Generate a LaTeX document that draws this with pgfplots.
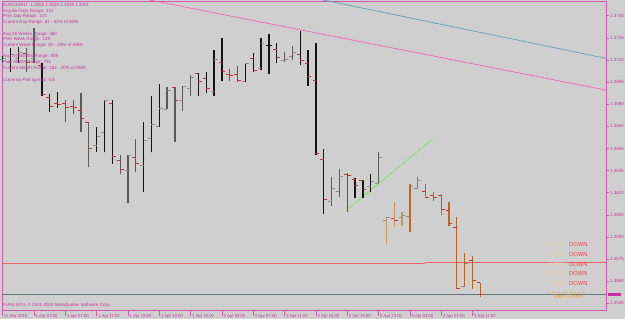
\documentclass[border=0pt]{standalone}
\usepackage{fontspec}
\setmainfont{Liberation Sans}
\usepackage{pgfplots}
\usepackage{pgfplotstable}
\pgfplotsset{compat=1.18}
\definecolor{bg}{HTML}{CFCFCF}
\definecolor{mtmag}{HTML}{C832A0}
\definecolor{axpink}{HTML}{D25AB4}
\definecolor{barblack}{HTML}{141414}
\definecolor{bargrey}{HTML}{5A5A5A}
\definecolor{barltor}{HTML}{C8965A}
\definecolor{bardkor}{HTML}{BE641E}
\definecolor{tickred}{HTML}{C83232}
\definecolor{tickgrey}{HTML}{8C8C8C}
\definecolor{trendpink}{HTML}{F064B4}
\definecolor{trendteal}{HTML}{5AA0BE}
\definecolor{trendgreen}{HTML}{78E65A}
\definecolor{hred}{HTML}{F06464}
\definecolor{pricegrey}{HTML}{607878}
\definecolor{downred}{HTML}{F04646}
\definecolor{faint}{HTML}{E6CDA5}
\definecolor{mmorange}{HTML}{F0A028}

\pgfdeclareplotmark{lt}{\pgfpathmoveto{\pgfqpoint{-3.4pt}{0pt}}\pgfpathlineto{\pgfqpoint{0pt}{0pt}}\pgfusepathqstroke}
\pgfdeclareplotmark{rt}{\pgfpathmoveto{\pgfqpoint{0pt}{0pt}}\pgfpathlineto{\pgfqpoint{3.4pt}{0pt}}\pgfusepathqstroke}

\pgfplotstableread{
x o h l c d k
0 1.37100 1.37127 1.37086 1.37113 1 0
1 1.37086 1.37181 1.37018 1.37134 1 0
2 1.37113 1.37188 1.37079 1.37154 1 0
3 1.37147 1.37181 1.37018 1.37086 0 1
4 1.37113 1.37317 1.37079 1.37262 1 1
5 1.37066 1.37079 1.36856 1.36869 0 0
6 1.36849 1.36869 1.36747 1.36788 0 0
7 1.36808 1.36883 1.36774 1.36801 0 0
8 1.36808 1.36828 1.36681 1.36776 0 1
9 1.36788 1.36828 1.36733 1.36781 0 1
10 1.36756 1.36876 1.36614 1.36700 0 1
11 1.36674 1.36674 1.36374 1.36498 0 1
12 1.36517 1.36647 1.36476 1.36584 1 0
13 1.36611 1.36828 1.36474 1.36826 1 0
14 1.36806 1.36828 1.36395 1.36444 0 0
15 1.36420 1.36456 1.36325 1.36359 0 1
16 1.36349 1.36456 1.36132 1.36451 1 1
17 1.36440 1.36564 1.36342 1.36399 0 1
18 1.36388 1.36677 1.36207 1.36557 1 0
19 1.36569 1.36858 1.36474 1.36664 1 0
20 1.36647 1.36937 1.36647 1.36772 1 0
21 1.36765 1.36915 1.36765 1.36896 1 1
22 1.36915 1.36915 1.36542 1.36828 0 1
23 1.36822 1.36923 1.36754 1.36919 1 1
24 1.36908 1.36998 1.36856 1.36984 1 1
25 1.37009 1.37014 1.36856 1.36955 0 0
26 1.36976 1.37020 1.36874 1.36908 0 0
27 1.36889 1.37167 1.36856 1.37104 1 0
28 1.37081 1.37247 1.36957 1.37020 0 0
29 1.37005 1.37037 1.36957 1.36998 0 1
30 1.37005 1.37059 1.36952 1.36964 0 1
31 1.36952 1.37081 1.36948 1.37077 1 0
32 1.37111 1.37145 1.37020 1.37032 0 0
33 1.37039 1.37247 1.37032 1.37213 1 0
34 1.37201 1.37276 1.37005 1.37201 2 0
35 1.37172 1.37217 1.37077 1.37118 0 0
36 1.37095 1.37152 1.37084 1.37104 1 1
37 1.37122 1.37197 1.37100 1.37152 1 1
38 1.37134 1.37298 1.37066 1.37095 0 0
39 1.37077 1.37167 1.36923 1.36986 0 0
40 1.36964 1.37217 1.36456 1.36467 0 0
41 1.36426 1.36494 1.36056 1.36157 0 0
42 1.36139 1.36308 1.36112 1.36230 1 1
43 1.36211 1.36359 1.36173 1.36308 1 1
44 1.36327 1.36331 1.36071 1.36315 0 1
45 1.36293 1.36298 1.36162 1.36252 0 0
46 1.36286 1.36286 1.36162 1.36223 0 0
47 1.36245 1.36327 1.36207 1.36279 1 0
48 1.36264 1.36474 1.36257 1.36442 1 1
49 1.36015 1.36033 1.35852 1.36030 1 2
50 1.36022 1.36139 1.35969 1.36015 0 2
51 1.36033 1.36071 1.35974 1.36047 1 2
52 1.36037 1.36259 1.35931 1.36241 1 3
53 1.36230 1.36308 1.36225 1.36286 1 3
54 1.36211 1.36259 1.36162 1.36169 0 3
55 1.36178 1.36203 1.36144 1.36169 0 3
56 1.36178 1.36191 1.36049 1.36087 0 3
57 1.36078 1.36139 1.35974 1.35992 0 3
58 1.35965 1.36037 1.35545 1.35552 0 3
59 1.35563 1.35789 1.35563 1.35721 1 3
60 1.35739 1.35771 1.35547 1.35603 0 3
61 1.35590 1.35590 1.35490 1.35510 0 3
}\bars

\pgfplotsset{
  rng/.style 2 args={only marks, mark=*, mark size=0pt, mark options={draw=none, fill=none}, forget plot,
    restrict expr to domain={\thisrow{k}}{#1},
    error bars/.cd, y dir=plus, y explicit, error mark=none,
    error bar style={line width=1.3pt, draw=#2, solid}},
  otick/.style 2 args={only marks, mark=lt, color=#2, mark options={solid, line width=1pt}, forget plot,
    restrict expr to domain={\thisrow{d}}{#1}},
  ctick/.style 2 args={only marks, mark=rt, color=#2, mark options={solid, line width=1pt}, forget plot,
    restrict expr to domain={\thisrow{d}}{#1}},
}

\begin{document}
\begin{tikzpicture}
\path[use as bounding box, fill=bg] (0pt,0pt) rectangle (625pt,319pt);
\begin{axis}[
  at={(2pt,9pt)}, anchor=south west,
  scale only axis, width=604pt, height=309pt,
  xmin=-0.09, xmax=77.05, ymin=1.35405, ymax=1.37500,
  axis line style={draw=axpink, line width=0.7pt},
  tick align=outside, major tick length=3pt,
  tick style={draw=axpink, line width=0.6pt},
  xtick pos=left, ytick pos=right,
  xticklabel pos=left, yticklabel pos=right,
  xtick={-0.08,4,8,12,16,20,24,28,32,36,40,44,48,52,56,60},
  xticklabels={31 Mar 2018,1 Apr 03:00,1 Apr 07:00,1 Apr 11:00,1 Apr 15:00,1 Apr 19:00,1 Apr 23:00,2 Apr 03:00,2 Apr 07:00,2 Apr 11:00,2 Apr 15:00,2 Apr 19:00,2 Apr 23:00,3 Apr 03:00,3 Apr 07:00,3 Apr 11:00},
  xtick style={/pgfplots/major tick length=6pt},
  ytick={1.3545,1.3560,1.3575,1.3590,1.3605,1.3620,1.3635,1.3650,1.3665,1.3680,1.3695,1.3710,1.3725,1.3740},
  scaled y ticks=false,
  /pgf/number format/.cd, fixed, fixed zerofill, precision=4, assume math mode=true,
  /pgfplots/.cd,
  xticklabel style={font=\fontsize{4.2}{5}\selectfont, text=mtmag, anchor=north west, inner sep=0pt, xshift=1.5pt, yshift=-1pt},
  yticklabel style={font=\fontsize{4.5}{5}\selectfont, text=mtmag, anchor=west, inner sep=0pt, xshift=1pt},
  extra y ticks={1.3551},
  extra y tick style={major tick length=0pt, tick label style={fill=mtmag, text=white, inner sep=0.8pt, xshift=0.5pt}},
  clip=true,
]
% horizontal lines
\addplot[pricegrey, line width=0.8pt, forget plot] coordinates {(-1,1.3551) (80,1.3551)};
\addplot[hred, line width=0.7pt, forget plot] coordinates {(-1,1.35719) (53.9,1.35719)};
\addplot[hred, line width=0.7pt, forget plot] coordinates {(53.9,1.35728) (80,1.35728)};
% trend lines
\addplot[trendpink, line width=0.7pt, forget plot] coordinates {(15,1.37546) (80,1.36865)};
\addplot[trendteal, line width=0.7pt, forget plot] coordinates {(38,1.37539) (80,1.37079)};
\addplot[trendgreen, line width=0.7pt, forget plot] coordinates {(43.93,1.36083) (54.92,1.36564)};
\addplot[mmorange, dotted, line width=0.6pt, forget plot] coordinates {(69.77,1.35523) (74.75,1.35523)};
% bar ranges
\addplot[rng={-0.5:0.5}{barblack}] table[x=x, y=l, y error expr=\thisrow{h}-\thisrow{l}] {\bars};
\addplot[rng={0.5:1.5}{bargrey}] table[x=x, y=l, y error expr=\thisrow{h}-\thisrow{l}] {\bars};
\addplot[rng={1.5:2.5}{barltor}] table[x=x, y=l, y error expr=\thisrow{h}-\thisrow{l}] {\bars};
\addplot[rng={2.5:3.5}{bardkor}] table[x=x, y=l, y error expr=\thisrow{h}-\thisrow{l}] {\bars};
% open/close ticks
\addplot[otick={-0.5:0.5}{tickred}] table[x=x, y=o] {\bars};
\addplot[ctick={-0.5:0.5}{tickred}] table[x=x, y=c] {\bars};
\addplot[otick={0.5:1.5}{tickgrey}] table[x=x, y=o] {\bars};
\addplot[ctick={0.5:1.5}{tickgrey}] table[x=x, y=c] {\bars};
\addplot[otick={1.5:2.5}{barblack}] table[x=x, y=o] {\bars};
\addplot[ctick={1.5:2.5}{barblack}] table[x=x, y=c] {\bars};
\end{axis}
% info block
\node[anchor=north west, inner sep=0pt, align=left, text=mtmag, font=\fontsize{4.5}{5.7}\selectfont] at (3pt,315.8pt)
 {EURCADH1~~1.3559 1.3559 1.3549 1.3551\\
  Avg 66 Days Range: 131\\
  Prev Day Range: 123\\
  Current Day Range: 81 - 62\% of ADR\\[5.7pt]
  Avg 26 Weeks Range: 380\\
  Prev Week Range: 219\\
  Current Week Range: 91 - 24\% of AWR\\[5.7pt]
  Avg 24 Months Range: 809\\
  Prev Month Range: 791\\
  Current Month Range: 162 - 20\% of AMR\\[7pt]
  Currency Pair spread: 6.8};
\node[anchor=west, inner sep=0pt, text=mtmag, font=\fontsize{4.5}{5}\selectfont] at (2.7pt,13.3pt) {FxPro MT4, © 2001-2018 MetaQuotes Software Corp.};
% direction table
\foreach \lab/\yy in {TODAY/74, Y-DAY/64, WEEK/54.7, MONTH/45, YEAR/35.7}{
  \node[anchor=east, inner sep=0pt, text=faint, font=\fontsize{5.8}{6}\selectfont] at (566pt,\yy pt) {\lab};
  \node[anchor=west, inner sep=0pt, text=downred, font=\fontsize{5.8}{6}\selectfont] at (569pt,\yy pt) {DOWN};
}
\node[inner sep=0pt, text=mmorange, font=\fontsize{5.6}{6}\selectfont] at (568pt,22.3pt) {Main Moves};
\end{tikzpicture}
\end{document}
